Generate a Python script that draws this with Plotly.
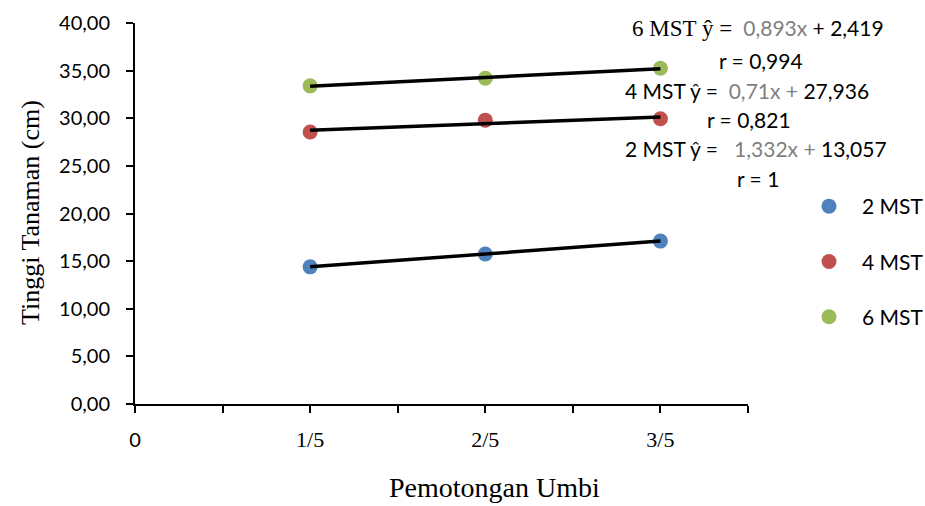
import numpy as np
import plotly.graph_objects as go

# ---- data ----
x_pos = [1, 2, 3]
x_labels = ["1/5", "2/5", "3/5"]
series_names = ["2 MST", "4 MST", "6 MST"]
mst2 = [14.40, 15.75, 17.10]
mst4 = [28.55, 29.80, 29.95]
mst6 = [33.40, 34.20, 35.25]
colors = ["#4F81BD", "#C0504D", "#9BBB59"]

xtick_vals = [0, 0.5, 1, 1.5, 2, 2.5, 3, 3.5]
xtick_text = ["<span style='font-family:Lato;font-size:20px'>0</span>", "",
              x_labels[0], "", x_labels[1], "", x_labels[2], ""]

SANS = "Lato"
SERIF = "Liberation Serif"

fig = go.Figure()

for name, vals, col in zip(series_names, [mst2, mst4, mst6], colors):
    fig.add_trace(go.Scatter(
        x=x_pos, y=vals, mode="markers", name=name,
        marker=dict(color=col, size=15),
        legendgroup=name, cliponaxis=False,
    ))

# linear trendlines fitted to each series
for name, vals in zip(series_names, [mst2, mst4, mst6]):
    b, a = np.polyfit(x_pos, vals, 1)
    xs = np.array([x_pos[0], x_pos[-1]])
    fig.add_trace(go.Scatter(
        x=xs, y=a + b * xs, mode="lines", showlegend=False,
        line=dict(color="black", width=3.5), hoverinfo="skip",
    ))

W, H = 925, 506
L, R, T, B = 135, 177, 23, 102
pw, ph = W - L - R, H - T - B


def px(xp):
    return (xp - L) / pw


def py(yp):
    return (H - B - yp) / ph


grey = "#7F7F7F"
ann = [
    (630, 28, f"<span style='font-family:{SERIF};font-size:23px'>6 MST ŷ = </span> <span style='color:{grey}'>0,893x</span> + 2,419"),
    (717, 60, "r = 0,994"),
    (623, 90, f"4 MST ŷ =  <span style='color:{grey}'>0,71x +</span> 27,936"),
    (705, 119, "r = 0,821"),
    (623, 148, f"2 MST ŷ =   <span style='color:{grey}'>1,332x +</span> 13,057"),
    (735, 178, "r = 1"),
]
annotations = []
for xp, yp, txt in ann:
    annotations.append(dict(
        x=px(xp), y=py(yp), xref="paper", yref="paper", text=txt,
        showarrow=False, xanchor="left", yanchor="middle",
        font=dict(family=SANS, size=21, color="black"),
    ))

annotations.append(dict(
    x=px(494), y=py(505), xref="paper", yref="paper", text="Pemotongan Umbi",
    showarrow=False, xanchor="center", yanchor="bottom",
    font=dict(family=SERIF, size=28, color="black"),
))
annotations.append(dict(
    x=px(30), y=py(213), xref="paper", yref="paper", text="Tinggi Tanaman (cm)",
    showarrow=False, xanchor="center", yanchor="middle", textangle=-90,
    font=dict(family=SERIF, size=26, color="black"),
))

fig.update_layout(
    width=W, height=H,
    margin=dict(l=L, r=R, t=T, b=B, pad=0, autoexpand=False),
    paper_bgcolor="white", plot_bgcolor="white",
    separators=",.",
    showlegend=True,
    legend=dict(
        x=px(796), y=py(186), xanchor="left", yanchor="top",
        font=dict(family=SANS, size=21, color="black"),
        tracegroupgap=25, bgcolor="rgba(0,0,0,0)", itemwidth=56,
    ),
    annotations=annotations,
    xaxis=dict(
        range=[0, 3.5], tickvals=xtick_vals, ticktext=xtick_text,
        showgrid=False, zeroline=False, showline=True, linecolor="black", linewidth=2,
        ticks="outside", ticklen=7, tickwidth=2, tickcolor="black",
        tickfont=dict(family=SERIF, size=22, color="black"),
        ticklabelstandoff=8,
    ),
    yaxis=dict(
        range=[0, 40], dtick=5, tickformat=".2f",
        showgrid=False, zeroline=False, showline=True, linecolor="black", linewidth=2,
        ticks="outside", ticklen=7, tickwidth=2, tickcolor="black",
        tickfont=dict(family=SANS, size=20, color="black"),
        ticklabelstandoff=12,
    ),
)

fig.write_html("out.html")
